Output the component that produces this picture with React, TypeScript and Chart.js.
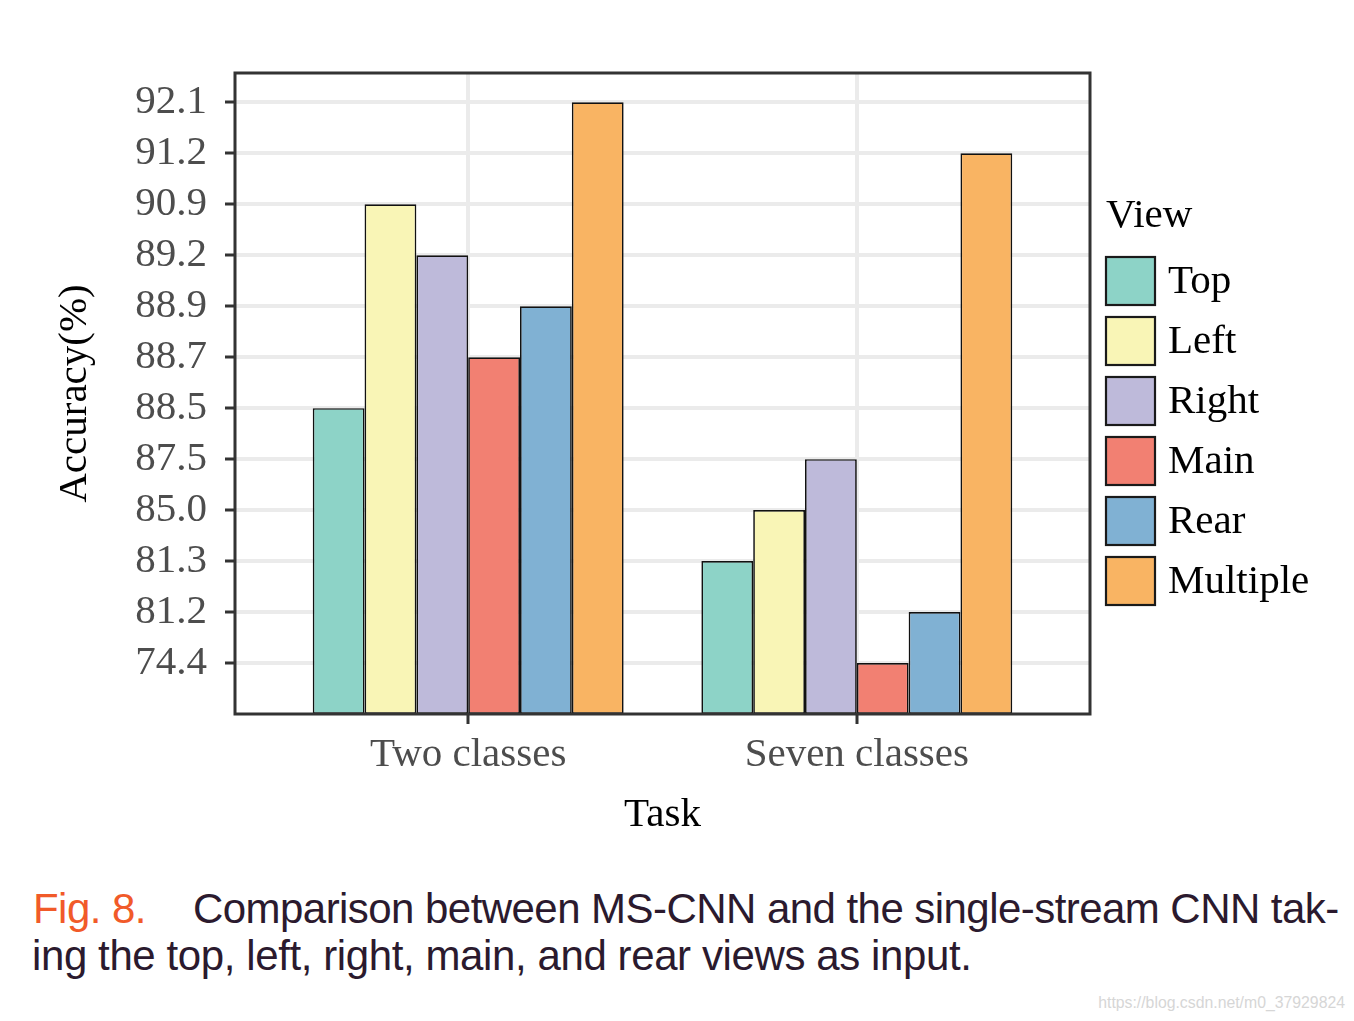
import React, { useEffect, useRef } from "react";
import { Chart, registerables } from "chart.js";

Chart.register(...registerables);

// ---- data ----
const tasks = ["Two classes", "Seven classes"];
const views = ["Top", "Left", "Right", "Main", "Rear", "Multiple"];
const twoClassesAcc = [88.5, 90.9, 89.2, 88.7, 88.9, 92.1];
const sevenClassesAcc = [81.3, 85.0, 87.5, 74.4, 81.2, 91.2];
// y axis in the original is ordinal: each label sits one step above the previous one
const yTickLabels = ["74.4", "81.2", "81.3", "85.0", "87.5", "88.5", "88.7", "88.9", "89.2", "90.9", "91.2", "92.1"];
const viewColors = ["#8dd3c7", "#f9f5b6", "#bebada", "#f28072", "#80b1d3", "#f9b463"];

const SERIF = "'Liberation Serif', 'Times New Roman', serif";
const SANS = "'Liberation Sans', Arial, Helvetica, sans-serif";

const rankOf = (v: number) => yTickLabels.findIndex((l) => parseFloat(l) === v) + 1;

const framePlugin = {
  id: "frameAndLegend",
  afterDraw(chart: any) {
    const { ctx, chartArea: a } = chart;
    ctx.save();
    ctx.strokeStyle = "#333333";
    ctx.lineWidth = 3;
    ctx.strokeRect(a.left, a.top, a.right - a.left, a.bottom - a.top);

    // legend
    const lx = a.right + 16;
    ctx.fillStyle = "#000";
    ctx.font = `41px ${SERIF}`;
    ctx.textAlign = "left";
    ctx.textBaseline = "alphabetic";
    ctx.fillText("View", lx, 227);
    chart.data.datasets.forEach((ds: any, i: number) => {
      const top = 257 + i * 60;
      ctx.fillStyle = ds.backgroundColor;
      ctx.fillRect(lx, top, 49, 48);
      ctx.strokeStyle = "#1a1a1a";
      ctx.lineWidth = 2.2;
      ctx.strokeRect(lx, top, 49, 48);
      ctx.fillStyle = "#000";
      ctx.fillText(ds.label, lx + 62, top + 36);
    });
    ctx.restore();
  },
};

function BarChart() {
  const ref = useRef<HTMLCanvasElement | null>(null);
  useEffect(() => {
    if (!ref.current) return;
    const datasets = views.map((v, i) => ({
      label: v,
      data: [
        { x: 1, y: rankOf(twoClassesAcc[i]) },
        { x: 2, y: rankOf(sevenClassesAcc[i]) },
      ],
      backgroundColor: viewColors[i],
      borderColor: "#111111",
      borderWidth: 1.7,
      borderSkipped: false,
      categoryPercentage: 0.8,
      barPercentage: 1,
    }));
    const gridCommon = {
      color: "#ebebeb",
      lineWidth: 4,
      tickColor: "#333333",
      tickWidth: 3,
      tickLength: 10,
      drawTicks: true,
      offset: false,
    };
    const chart = new Chart(ref.current, {
      type: "bar",
      data: { datasets } as any,
      plugins: [framePlugin],
      options: {
        animation: false,
        responsive: false,
        layout: { padding: { left: 0, top: 73, right: 264, bottom: 0 } },
        plugins: { legend: { display: false }, tooltip: { enabled: false } },
        scales: {
          x: {
            type: "linear",
            position: "bottom",
            min: 0.4,
            max: 2.6,
            offset: false,
            afterBuildTicks: (s: any) => {
              s.ticks = tasks.map((_, i) => ({ value: i + 1 }));
            },
            afterFit: (s: any) => {
              s.height = 146;
            },
            ticks: {
              callback: (v: any) => tasks[Number(v) - 1] ?? "",
              font: { family: SERIF, size: 41 },
              color: "#4d4d4d",
              padding: 7,
              autoSkip: false,
              maxRotation: 0,
            },
            grid: gridCommon,
            border: { display: false },
            title: {
              display: true,
              text: "Task",
              font: { family: SERIF, size: 41 },
              color: "#000",
              padding: { top: 0, bottom: 20 },
            },
          },
          y: {
            type: "linear",
            min: 0,
            max: 12.575,
            afterBuildTicks: (s: any) => {
              s.ticks = yTickLabels.map((_, i) => ({ value: i + 1 }));
            },
            afterFit: (s: any) => {
              s.width = 235;
            },
            ticks: {
              callback: (v: any) => yTickLabels[Number(v) - 1] ?? "",
              font: { family: SERIF, size: 41 },
              color: "#4d4d4d",
              padding: 18,
              autoSkip: false,
            },
            grid: gridCommon,
            border: { display: false },
            title: {
              display: true,
              text: "Accuracy(%)",
              font: { family: SERIF, size: 41 },
              color: "#000",
              padding: { top: 51, bottom: 0 },
            },
          },
        },
      } as any,
    });
    return () => chart.destroy();
  }, []);
  return <canvas ref={ref} width={1354} height={860} style={{ display: "block", width: 1354, height: 860 }} />;
}

export default function App() {
  const captionBase: React.CSSProperties = {
    position: "absolute",
    fontFamily: SANS,
    fontSize: 42,
    lineHeight: "42px",
    letterSpacing: "-0.55px",
    whiteSpace: "nowrap",
    color: "#2b1a2e",
  };
  return (
    <div style={{ position: "absolute", left: 0, top: 0, width: 1354, height: 1021, background: "#fff", overflow: "hidden" }}>
      <BarChart />
      <div style={{ ...captionBase, left: 33, top: 888, color: "#f15a29" }}>Fig. 8.</div>
      <div style={{ ...captionBase, left: 193, top: 888 }}>
        Comparison between MS-CNN and the single-stream CNN tak-
      </div>
      <div style={{ ...captionBase, left: 32, top: 935, letterSpacing: "-0.4px" }}>
        ing the top, left, right, main, and rear views as input.
      </div>
      <div
        style={{
          position: "absolute",
          right: 9,
          top: 993,
          fontFamily: SANS,
          fontSize: 15.8,
          lineHeight: "19px",
          color: "#d6d6d6",
          whiteSpace: "nowrap",
        }}
      >
        https://blog.csdn.net/m0_37929824
      </div>
    </div>
  );
}
